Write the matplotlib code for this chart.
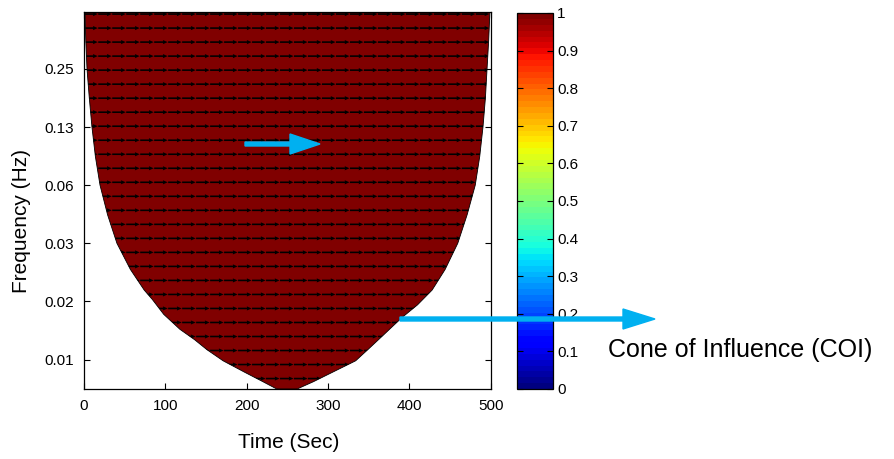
import numpy as np
import matplotlib
matplotlib.use('Agg')
import matplotlib.pyplot as plt
from matplotlib.patches import FancyArrow, Polygon
from matplotlib.ticker import NullLocator, FixedLocator

plt.rcParams['font.family'] = ['Liberation Sans', 'DejaVu Sans']

# Cone of influence boundary, left branch then right branch
coi_time = [1.2, 2.2, 3.7, 6.5, 9.8, 14.0, 19.7, 29.0, 40.5, 57.0, 74.0, 84.0, 98.0, 118.0, 136.0,
            151.0, 171.0, 198.0, 220.0, 237.0,
            262.0, 282.0, 305.0, 334.0, 349.0, 362.0, 391.0, 410.0, 428.0, 444.0, 459.5, 471.0,
            481.0, 486.5, 490.5, 493.5, 495.5, 497.5, 499.0]
coi_freq = [0.493, 0.35, 0.25, 0.177, 0.125, 0.088, 0.0625, 0.0439, 0.03125, 0.0229, 0.0179, 0.0160,
            0.0134, 0.0112, 0.0099, 0.0088, 0.0077, 0.0067, 0.0060, 0.0055,
            0.0055, 0.0060, 0.0067, 0.0077, 0.0088, 0.0099, 0.0129, 0.0150, 0.0179, 0.0229, 0.03125,
            0.0439, 0.0625, 0.088, 0.125, 0.177, 0.25, 0.35, 0.493]

# coherence inside the cone and relative phase (all in phase -> arrows point right)
coherence = 1.0
phase_deg = 0.0

# axis ticks
time_ticks = [0, 100, 200, 300, 400, 500]
freq_ticks = [0.25, 0.125, 0.0625, 0.03125, 0.015625, 0.0078125]
freq_labels = ['0.25', '0.13', '0.06', '0.03', '0.02', '0.01']
cbar_ticks = [0, 0.1, 0.2, 0.3, 0.4, 0.5, 0.6, 0.7, 0.8, 0.9, 1]
cbar_labels = ['0', '0.1', '0.2', '0.3', '0.4', '0.5', '0.6', '0.7', '0.8', '0.9', '1']

W, H = 895, 459
fig = plt.figure(figsize=(W / 100, H / 100), dpi=100)
ax = fig.add_axes([84 / W, 1 - 389 / H, 406.7 / W, 377 / H])
cax = fig.add_axes([517 / W, 1 - 389 / H, 36 / W, 376 / H])

cmap = plt.get_cmap('jet', 64)
norm = matplotlib.colors.Normalize(0, 1)

ax.set_yscale('log', base=2)
ax.set_xlim(0, 500)
ax.set_ylim(0.0055, 0.493)

# filled cone
cone = Polygon(np.column_stack([coi_time, coi_freq]), closed=True,
               fc=cmap(norm(coherence)), ec='black', lw=0.6, zorder=1)
ax.add_patch(cone)

# phase arrows on a regular grid, clipped to the cone
grid_t = np.linspace(8.6, 490, 29)
grid_f = np.geomspace(0.481, 0.00623, 27)
TT, FF = np.meshgrid(grid_t, grid_f)
ang = np.deg2rad(phase_deg)
U = np.full(TT.shape, np.cos(ang))
V = np.full(TT.shape, np.sin(ang))
q = ax.quiver(TT, FF, U, V, color='black',
              units='inches', scale_units='inches', scale=1 / 0.135, width=0.016,
              headwidth=2.6, headlength=3, headaxislength=2.8, pivot='middle', zorder=3)
q.set_clip_path(cone)

ax.set_axisbelow(True)
ax.set_xticks(time_ticks)
ax.yaxis.set_major_locator(FixedLocator(freq_ticks))
ax.yaxis.set_minor_locator(NullLocator())
ax.set_yticklabels(freq_labels)
ax.tick_params(direction='in', length=4, width=0.8, labelsize=11, top=True, right=True, pad=7)
for s in ax.spines.values():
    s.set_linewidth(0.9)

# colorbar
sm = matplotlib.cm.ScalarMappable(norm=norm, cmap=cmap)
cb = fig.colorbar(sm, cax=cax, ticks=cbar_ticks)
cb.ax.set_yticklabels(cbar_labels)
cb.outline.set_linewidth(0.9)
cax.tick_params(direction='in', length=4, width=0.8, labelsize=11, left=True, right=True, pad=3)

# labels
fig.text(289 / W, 1 - 443 / H, 'Time (Sec)', ha='center', va='center', fontsize=15)
fig.text(22 / W, 1 - 221 / H, 'Frequency (Hz)', ha='center', va='center', fontsize=15, rotation=90)

# annotation arrows
blue = '#00B0F0'
fig.add_artist(FancyArrow(245 / W, 1 - 144 / H, 75 / W, 0, width=4 / H, head_width=20 / H,
                          head_length=30 / W, length_includes_head=True, color=blue,
                          transform=fig.transFigure, zorder=5))
fig.add_artist(FancyArrow(400 / W, 1 - 319 / H, 255 / W, 0, width=4 / H, head_width=20 / H,
                          head_length=32 / W, length_includes_head=True, color=blue,
                          transform=fig.transFigure, zorder=5))
fig.text(608 / W, 1 - 350 / H, 'Cone of Influence (COI)', ha='left', va='center', fontsize=18)

fig.savefig('out.png', dpi=100)
